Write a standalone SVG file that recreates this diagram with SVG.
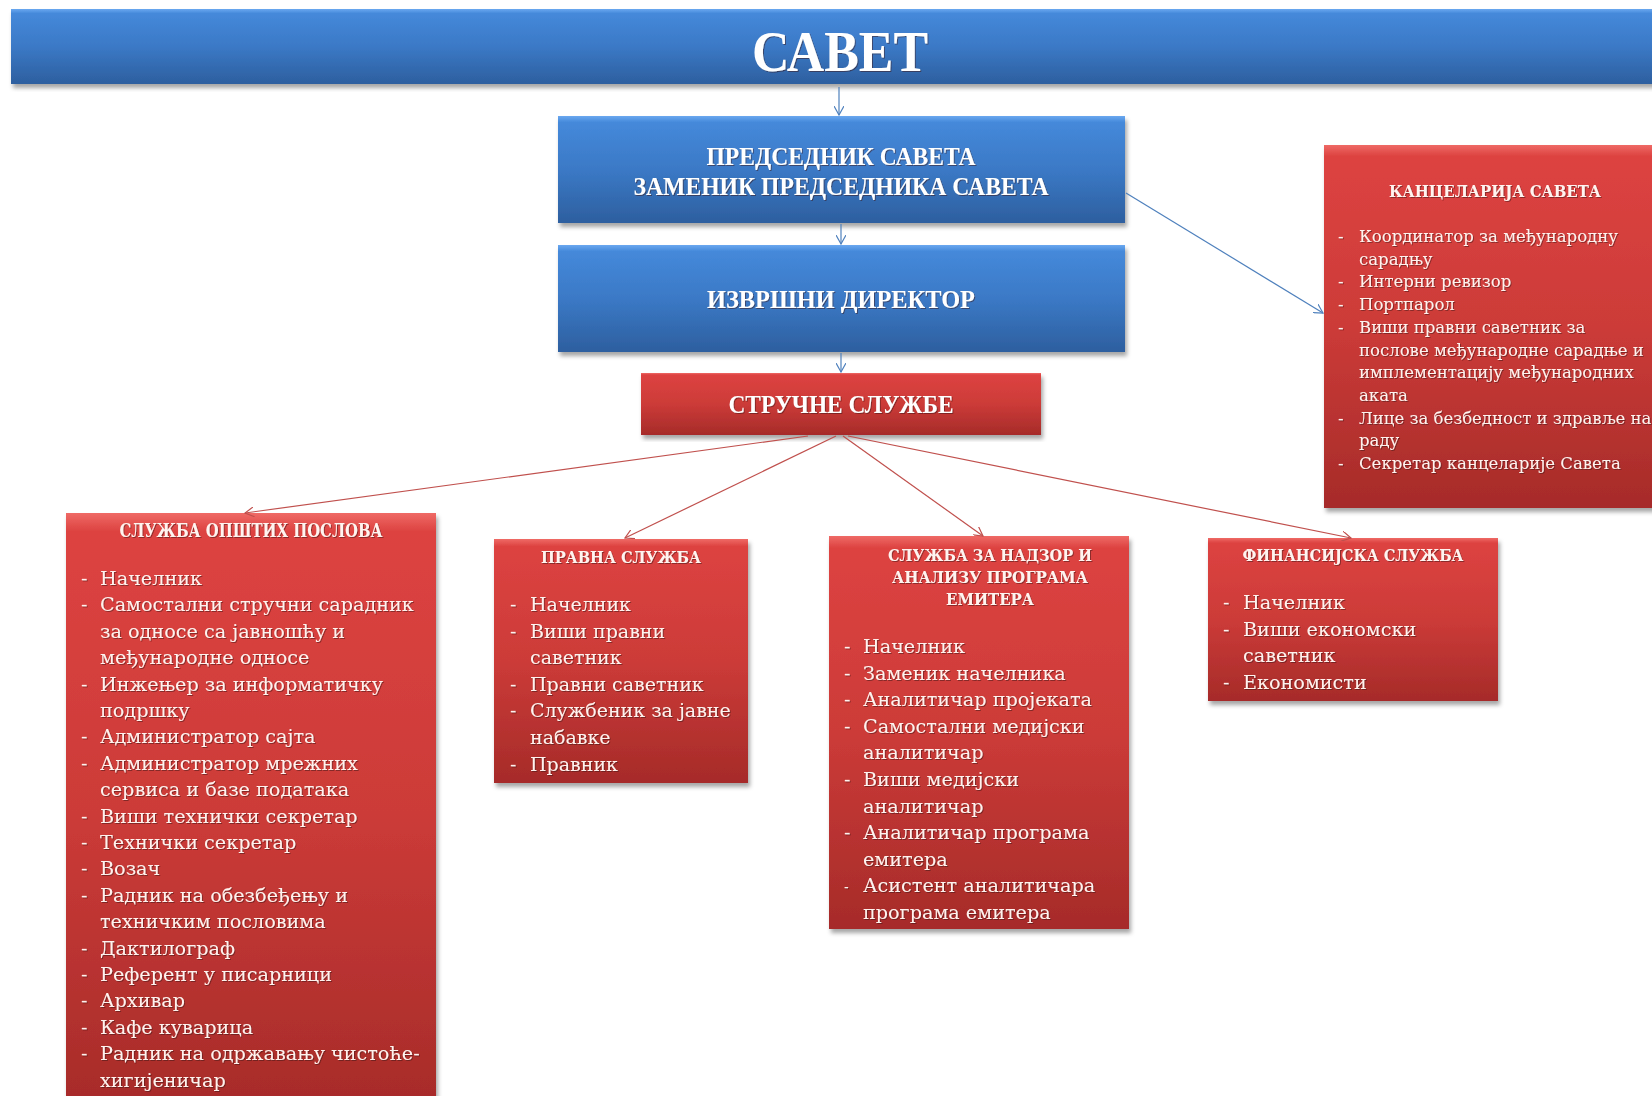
<svg xmlns="http://www.w3.org/2000/svg" width="1652" height="1096" viewBox="0 0 1652 1096">
<defs>
<linearGradient id="gBlue" x1="0" y1="0" x2="0" y2="1">
<stop offset="0" stop-color="#6aa8f0"/>
<stop offset="0.06" stop-color="#4589da"/>
<stop offset="0.5" stop-color="#3b79c6"/>
<stop offset="1" stop-color="#2d5f9f"/>
</linearGradient>
<linearGradient id="gRed" x1="0" y1="0" x2="0" y2="1">
<stop offset="0" stop-color="#ef6a66"/>
<stop offset="0.03" stop-color="#dd4341"/>
<stop offset="0.5" stop-color="#cc3b38"/>
<stop offset="1" stop-color="#a62b29"/>
</linearGradient>
<filter id="shadow" x="-5%" y="-5%" width="112%" height="115%">
<feDropShadow dx="2" dy="4" stdDeviation="2" flood-color="#000" flood-opacity="0.35"/>
</filter>
<filter id="tshadow" x="-5%" y="-20%" width="110%" height="140%">
<feDropShadow dx="1" dy="1" stdDeviation="0.6" flood-color="#3a0d0c" flood-opacity="0.5"/>
</filter>
<marker id="arrBlue" viewBox="0 0 10 10" refX="9" refY="5" markerWidth="10" markerHeight="10" markerUnits="userSpaceOnUse" orient="auto">
<path d="M0,0 L9,5 L0,10" fill="none" stroke="#4f81bd" stroke-width="1.2"/>
</marker>
<marker id="arrRed" viewBox="0 0 10 10" refX="9" refY="5" markerWidth="10" markerHeight="10" markerUnits="userSpaceOnUse" orient="auto">
<path d="M0,0 L9,5 L0,10" fill="none" stroke="#c0504d" stroke-width="1.2"/>
</marker>
<style>
.blue{fill:url(#gBlue);filter:url(#shadow)}
.red{fill:url(#gRed);filter:url(#shadow)}
.ttl{font-family:"Liberation Serif","DejaVu Serif",serif;font-weight:bold;fill:#ffffff;text-anchor:middle;filter:url(#tshadow)}
.hd{font-family:"DejaVu Serif","Liberation Serif",serif;font-weight:bold;fill:#fff4f0;text-anchor:middle;filter:url(#tshadow)}
.it{font-family:"DejaVu Serif","Liberation Serif",serif;fill:#fff2ee;filter:url(#tshadow)}
.cb{stroke:#4f81bd;stroke-width:1.2;fill:none;marker-end:url(#arrBlue)}
.cr{stroke:#c0504d;stroke-width:1.2;fill:none;marker-end:url(#arrRed)}
</style>
</defs>
<rect width="1652" height="1096" fill="#ffffff"/>

<g id="savet">
<rect class="blue" x="11" y="9" width="1660" height="75"/>
<text class="ttl" x="840" y="71" font-size="56" textLength="176" lengthAdjust="spacingAndGlyphs">САВЕТ</text>
</g>

<g id="predsednik">
<rect class="blue" x="558" y="116" width="567" height="107"/>
<text class="ttl" x="841" y="165" font-size="26" textLength="269" lengthAdjust="spacingAndGlyphs">ПРЕДСЕДНИК САВЕТА</text>
<text class="ttl" x="841" y="195" font-size="26" textLength="415" lengthAdjust="spacingAndGlyphs">ЗАМЕНИК ПРЕДСЕДНИКА САВЕТА</text>
</g>

<g id="direktor">
<rect class="blue" x="558" y="245" width="567" height="107"/>
<text class="ttl" x="841" y="308" font-size="26" textLength="268" lengthAdjust="spacingAndGlyphs">ИЗВРШНИ ДИРЕКТОР</text>
</g>

<g id="strucne">
<rect class="red" x="641" y="373" width="400" height="62"/>
<text class="ttl" x="841" y="413" font-size="26" textLength="225" lengthAdjust="spacingAndGlyphs">СТРУЧНЕ СЛУЖБЕ</text>
</g>

<g id="kancelarija">
<rect class="red" x="1324" y="145" width="340" height="363"/>
<text class="hd" x="1495" y="197" font-size="17" textLength="212" lengthAdjust="spacingAndGlyphs">КАНЦЕЛАРИЈА САВЕТА</text>
<g class="it" font-size="16.5">
<text x="1338" y="242">-</text><text x="1359" y="242">Координатор за међународну</text>
<text x="1359" y="264.7">сарадњу</text>
<text x="1338" y="287.4">-</text><text x="1359" y="287.4">Интерни ревизор</text>
<text x="1338" y="310">-</text><text x="1359" y="310">Портпарол</text>
<text x="1338" y="332.8">-</text><text x="1359" y="332.8">Виши правни саветник за</text>
<text x="1359" y="355.5">послове међународне сарадње и</text>
<text x="1359" y="378.2">имплементацију међународних</text>
<text x="1359" y="401">аката</text>
<text x="1338" y="423.6">-</text><text x="1359" y="423.6">Лице за безбедност и здравље на</text>
<text x="1359" y="446.3">раду</text>
<text x="1338" y="469">-</text><text x="1359" y="469">Секретар канцеларије Савета</text>
</g>
</g>

<g id="opsti">
<rect class="red" x="66" y="513" width="370" height="600"/>
<text class="hd" x="251" y="537" font-size="18" textLength="263" lengthAdjust="spacingAndGlyphs">СЛУЖБА ОПШТИХ ПОСЛОВА</text>
<g class="it" font-size="19.2">
<text x="81" y="585">-</text><text x="100" y="585">Начелник</text>
<text x="81" y="611.4">-</text><text x="100" y="611.4">Самостални стручни сарадник</text>
<text x="100" y="637.8">за односе са јавношћу и</text>
<text x="100" y="664.2">међународне односе</text>
<text x="81" y="690.6">-</text><text x="100" y="690.6">Инжењер за информатичку</text>
<text x="100" y="717">подршку</text>
<text x="81" y="743.4">-</text><text x="100" y="743.4">Администратор сајта</text>
<text x="81" y="769.8">-</text><text x="100" y="769.8">Администратор мрежних</text>
<text x="100" y="796.2">сервиса и базе података</text>
<text x="81" y="822.6">-</text><text x="100" y="822.6">Виши технички секретар</text>
<text x="81" y="849">-</text><text x="100" y="849">Технички секретар</text>
<text x="81" y="875.4">-</text><text x="100" y="875.4">Возач</text>
<text x="81" y="901.8">-</text><text x="100" y="901.8">Радник на обезбеђењу и</text>
<text x="100" y="928.2">техничким пословима</text>
<text x="81" y="954.6">-</text><text x="100" y="954.6">Дактилограф</text>
<text x="81" y="981">-</text><text x="100" y="981">Референт у писарници</text>
<text x="81" y="1007.4">-</text><text x="100" y="1007.4">Архивар</text>
<text x="81" y="1033.8">-</text><text x="100" y="1033.8">Кафе куварица</text>
<text x="81" y="1060.2">-</text><text x="100" y="1060.2">Радник на одржавању чистоће-</text>
<text x="100" y="1086.6">хигијеничар</text>
</g>
</g>

<g id="pravna">
<rect class="red" x="494" y="539" width="254" height="244"/>
<text class="hd" x="621" y="563" font-size="17" textLength="160" lengthAdjust="spacingAndGlyphs">ПРАВНА СЛУЖБА</text>
<g class="it" font-size="19">
<text x="510" y="611">-</text><text x="530" y="611">Начелник</text>
<text x="510" y="637.6">-</text><text x="530" y="637.6">Виши правни</text>
<text x="530" y="664.2">саветник</text>
<text x="510" y="690.8">-</text><text x="530" y="690.8">Правни саветник</text>
<text x="510" y="717.4">-</text><text x="530" y="717.4">Службеник за јавне</text>
<text x="530" y="744">набавке</text>
<text x="510" y="770.6">-</text><text x="530" y="770.6">Правник</text>
</g>
</g>

<g id="nadzor">
<rect class="red" x="829" y="536" width="300" height="393"/>
<text class="hd" x="990" y="561" font-size="17" textLength="204" lengthAdjust="spacingAndGlyphs">СЛУЖБА ЗА НАДЗОР И</text>
<text class="hd" x="990" y="583" font-size="17" textLength="196" lengthAdjust="spacingAndGlyphs">АНАЛИЗУ ПРОГРАМА</text>
<text class="hd" x="990" y="605" font-size="17" textLength="88" lengthAdjust="spacingAndGlyphs">ЕМИТЕРА</text>
<g class="it" font-size="19.2">
<text x="844" y="653">-</text><text x="863" y="653">Начелник</text>
<text x="844" y="679.6">-</text><text x="863" y="679.6">Заменик начелника</text>
<text x="844" y="706.2">-</text><text x="863" y="706.2">Аналитичар пројеката</text>
<text x="844" y="732.8">-</text><text x="863" y="732.8">Самостални медијски</text>
<text x="863" y="759.4">аналитичар</text>
<text x="844" y="786">-</text><text x="863" y="786">Виши медијски</text>
<text x="863" y="812.6">аналитичар</text>
<text x="844" y="839.2">-</text><text x="863" y="839.2">Аналитичар програма</text>
<text x="863" y="865.8">емитера</text>
<text x="844" y="892.4" font-size="14">-</text><text x="863" y="892.4">Асистент аналитичара</text>
<text x="863" y="919">програма емитера</text>
</g>
</g>

<g id="finansijska">
<rect class="red" x="1208" y="538" width="290" height="163"/>
<text class="hd" x="1353" y="561" font-size="17" textLength="221" lengthAdjust="spacingAndGlyphs">ФИНАНСИЈСКА СЛУЖБА</text>
<g class="it" font-size="19.2">
<text x="1223" y="609">-</text><text x="1243" y="609">Начелник</text>
<text x="1223" y="635.6">-</text><text x="1243" y="635.6">Виши економски</text>
<text x="1243" y="662.2">саветник</text>
<text x="1223" y="688.8">-</text><text x="1243" y="688.8">Економисти</text>
</g>
</g>

<g id="connectors">
<line class="cb" x1="839" y1="87" x2="839" y2="115"/>
<line class="cb" x1="841" y1="224" x2="841" y2="244"/>
<line class="cb" x1="841" y1="353" x2="841" y2="372"/>
<line class="cb" x1="1126" y1="193" x2="1323" y2="313"/>
<line class="cr" x1="808" y1="436" x2="245" y2="513"/>
<line class="cr" x1="836" y1="436" x2="625" y2="538"/>
<line class="cr" x1="843" y1="436" x2="983" y2="536"/>
<line class="cr" x1="848" y1="436" x2="1351" y2="538"/>
</g>
</svg>
